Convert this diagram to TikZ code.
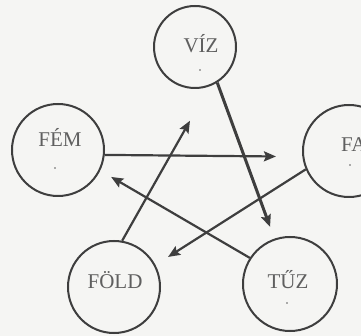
\documentclass[tikz,border=0pt]{standalone}
\usepackage{fontspec}
\setmainfont{Liberation Serif}
\usetikzlibrary{arrows.meta}
\definecolor{bg}{RGB}{245,245,243}
\definecolor{ink}{RGB}{62,62,62}
\definecolor{txt}{RGB}{95,95,95}
\begin{document}
\begin{tikzpicture}[x=1pt,y=-1pt,
  elem/.style={circle,draw=ink,line width=2pt,inner sep=0pt,minimum size=92pt},
  lab/.style={anchor=base,text=txt,font=\fontsize{21}{21}\selectfont,inner sep=0pt},
  conn/.style={draw=ink,line width=2.2pt,-{Stealth[length=12pt,width=10pt,inset=2pt]}},
  cdot/.style={circle,fill=txt,inner sep=0pt,minimum size=1.8pt}
]
\useasboundingbox (0,0) rectangle (361,336);
\fill[bg] (0,0) rectangle (361,336);
\clip (0,0) rectangle (361,336);
% circles
\node[elem,minimum size=82pt] (viz) at (195,47) {};
\node[elem] (fem) at (58,150) {};
\node[elem] (fa) at (349,151) {};
\node[elem] (fold) at (114,287) {};
\node[elem,minimum size=94pt] (tuz) at (290,284) {};
% labels
\node[lab] (tviz) at (201,53) {VÍZ};
\node[lab] (tfem) at (60,147) {FÉM};
\node[lab,anchor=base west] (tfa) at (341,152) {FA};
\node[lab] (tfold) at (115,288) {FÖLD};
\node[lab] (ttuz) at (288,288) {TŰZ};
% small marks
\node[cdot] (dviz) at (200,70) {};
\node[cdot] (dfem) at (55,168) {};
\node[cdot] (dfa) at (350,165) {};
\node[cdot] (dtuz) at (287,303) {};
% connectors
\draw[conn,line width=3pt,shorten >=12.5pt] (viz.-58) -- (tuz.109.5);
\draw[conn,shorten >=26.4pt] (fem.-6.3) -- (fa.187.5);
\draw[conn,shorten >=39.4pt] (fold.80) -- (viz.-70);
\draw[conn,shorten >=12.6pt] (tuz.147.3) -- (fem.-26.7);
\draw[conn,shorten >=14.9pt] (fa.203.4) -- (fold.28.7);
\end{tikzpicture}
\end{document}
